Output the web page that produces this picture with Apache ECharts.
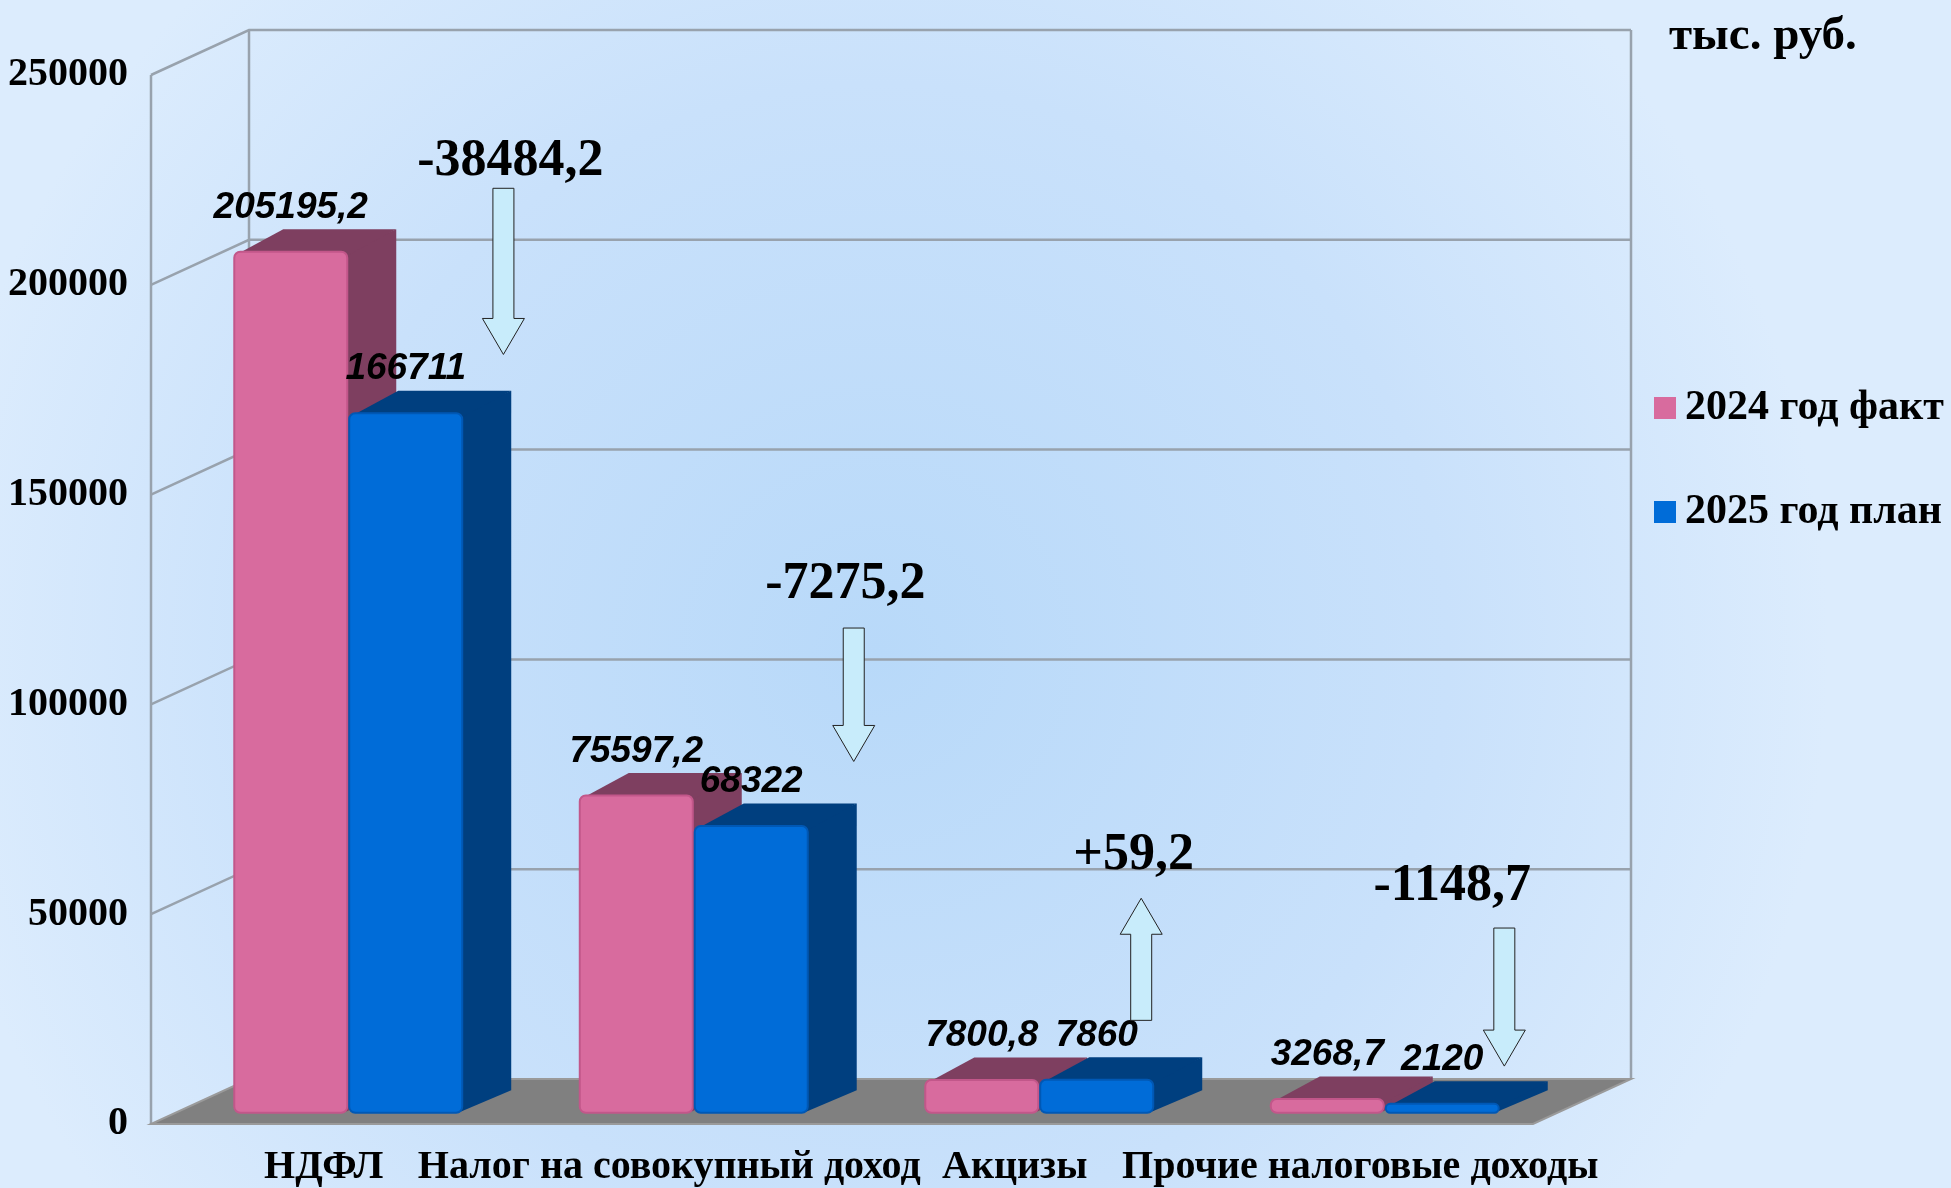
<!DOCTYPE html>
<html>
<head>
<meta charset="utf-8">
<script src="https://cdn.jsdelivr.net/npm/echarts@6/dist/echarts.min.js"></script>
<style>
html, body { margin: 0; padding: 0; }
#chart { width: 1951px; height: 1188px; }
</style>
</head>
<body>
<div id="chart"></div>
<script>
var categories = ['НДФЛ', 'Налог на совокупный доход', 'Акцизы', 'Прочие налоговые доходы'];
var fact2024 = [205195.2, 75597.2, 7800.8, 3268.7];
var plan2025 = [166711, 68322, 7860, 2120];
var yTicks = [0, 50000, 100000, 150000, 200000, 250000];
// arrows between the two years: start / end on the value axis, and the level of the change label
var arrowFrom = [223000, 118200, 24700, 46700];
var arrowTo = [183400, 86400, 53800, 13800];
var diffLabelAt = [229300, 128500, 63900, 56500];

// where the arrow and its label sit inside the category band (share of band width)
var arrowShift = [0.52, 0.534, 0.366, 0.417];
var labelShift = [0.54, 0.51, 0.344, 0.266];

var DX = 98, DY = -45; // depth of the 3d box
var serifFont = '"Liberation Serif", "Times New Roman", serif';

function fmt(v) {
    return String(v).replace('.', ',');
}
var diffText = fact2024.map(function (f, i) {
    var d = Math.round((plan2025[i] - f) * 10) / 10;
    return (d > 0 ? '+' : '') + fmt(d);
});

var chart = echarts.init(document.getElementById('chart'));

function renderFrame(params, api) {
    var cs = params.coordSys;
    var left = cs.x, right = cs.x + cs.width, top = cs.y, bottom = cs.y + cs.height;
    var lineStyle = { stroke: '#98a2ad', lineWidth: 2.5, fill: null };
    var children = [];
    yTicks.forEach(function (v) {
        if (v === 0) return;
        var y = api.coord([0, v])[1];
        children.push({ type: 'polyline', shape: { points: [[left, y], [left + DX, y + DY], [right + DX, y + DY]] }, style: lineStyle });
    });
    children.push({ type: 'line', shape: { x1: left, y1: top, x2: left, y2: bottom }, style: lineStyle });
    children.push({ type: 'line', shape: { x1: left + DX, y1: top + DY, x2: left + DX, y2: bottom + DY }, style: lineStyle });
    children.push({ type: 'line', shape: { x1: right + DX, y1: top + DY, x2: right + DX, y2: bottom + DY }, style: lineStyle });
    children.push({
        type: 'polygon',
        shape: { points: [[left, bottom], [right, bottom], [right + DX, bottom + DY], [left + DX, bottom + DY]] },
        style: { fill: '#808080', stroke: '#9a9a9a', lineWidth: 2 }
    });
    return { type: 'group', children: children };
}

function makeBar(seriesIdx, front, dark, edge) {
    return function (params, api) {
        var idx = api.value(0), val = api.value(1);
        var base = api.coord([idx, 0]);
        var top = api.coord([idx, val]);
        var band = api.size([1, 0])[0];
        var bw = band * 0.327;
        var x0 = base[0] - bw - 1 + seriesIdx * (bw + 2) + DX * 0.25;
        var yb = base[1] + DY * 0.25;
        var yt = top[1] + DY * 0.25;
        var bx = DX * 0.5, by = DY * 0.5;
        return {
            type: 'group',
            children: [{
                type: 'polygon',
                shape: { points: [[x0 + bw - 4, yt], [x0 + bw + bx, yt + by], [x0 + bw + bx, yb + by], [x0 + bw - 4, yb]] },
                style: { fill: dark }
            }, {
                type: 'polygon',
                shape: { points: [[x0, yt + 4], [x0 + bx, yt + by], [x0 + bw + bx, yt + by], [x0 + bw, yt + 4]] },
                style: { fill: dark }
            }, {
                type: 'rect',
                shape: { x: x0, y: yt, width: bw, height: yb - yt, r: 6 },
                style: { fill: front, stroke: edge, lineWidth: 2 }
            }, {
                type: 'text',
                x: x0 + bw / 2,
                y: yt + by - 3,
                style: {
                    text: fmt(val),
                    font: 'italic bold 37px "Liberation Sans", Arial, sans-serif',
                    fill: '#000',
                    align: 'center',
                    verticalAlign: 'bottom'
                }
            }]
        };
    };
}

function renderArrow(params, api) {
    var i = params.dataIndex;
    var band = api.size([1, 0])[0];
    var c = api.coord([i, 0])[0];
    var ax = c + arrowShift[i] * band;
    var y0 = api.coord([i, api.value(1)])[1];
    var y1 = api.coord([i, api.value(2)])[1];
    var dir = y1 > y0 ? 1 : -1;
    var hl = 36, sw = 10.5, hw = 21;
    var yh = y1 - dir * hl;
    var ly = api.coord([i, api.value(3)])[1];
    return {
        type: 'group',
        children: [{
            type: 'polygon',
            shape: { points: [[ax - sw, y0], [ax + sw, y0], [ax + sw, yh], [ax + hw, yh], [ax, y1], [ax - hw, yh], [ax - sw, yh]] },
            style: { fill: '#c8ecfb', stroke: '#222', lineWidth: 1 }
        }, {
            type: 'text',
            x: c + labelShift[i] * band,
            y: ly,
            style: {
                text: diffText[i],
                font: 'bold 52px ' + serifFont,
                fill: '#000',
                align: 'center',
                verticalAlign: 'middle'
            }
        }]
    };
}

var option = {
    backgroundColor: {
        type: 'radial', x: 0.45, y: 0.55, r: 0.8,
        colorStops: [
            { offset: 0, color: '#b8d9f9' },
            { offset: 0.6, color: '#c9e1fb' },
            { offset: 1, color: '#dcecfd' }
        ]
    },
    animation: false,
    title: {
        text: 'тыс. руб.',
        left: 1664,
        top: 8,
        textStyle: { fontFamily: serifFont, fontWeight: 'bold', fontSize: 47, color: '#000' }
    },
    legend: {
        data: ['2024 год факт', '2025 год план'],
        orient: 'vertical',
        left: 1649,
        top: 382,
        itemGap: 62,
        itemWidth: 22,
        itemHeight: 22,
        icon: 'rect',
        textStyle: { fontFamily: serifFont, fontWeight: 'bold', fontSize: 42, color: '#000', padding: [0, 0, 0, 4] }
    },
    grid: { left: 151, top: 75, width: 1382, height: 1049 },
    xAxis: {
        type: 'category',
        data: categories,
        axisLine: { show: false },
        axisTick: { show: false },
        axisLabel: { interval: 0, margin: 24, fontFamily: serifFont, fontWeight: 'bold', fontSize: 40, color: '#000' }
    },
    yAxis: {
        type: 'value',
        min: 0,
        max: 250000,
        interval: 50000,
        axisLine: { show: false },
        axisTick: { show: false },
        splitLine: { show: false },
        axisLabel: {
            margin: 23, fontFamily: serifFont, fontWeight: 'bold', fontSize: 40, color: '#000',
            formatter: function (v) { return String(v); }
        }
    },
    series: [{
        type: 'custom',
        name: 'frame',
        z: 1,
        silent: true,
        renderItem: renderFrame,
        data: [[0, 0]]
    }, {
        type: 'custom',
        name: '2024 год факт',
        z: 2,
        itemStyle: { color: '#d86b9e' },
        renderItem: makeBar(0, '#d86b9e', '#7e3f60', '#c2578a'),
        encode: { x: 0, y: 1 },
        data: fact2024.map(function (v, i) { return [i, v]; })
    }, {
        type: 'custom',
        name: '2025 год план',
        z: 3,
        itemStyle: { color: '#006cd8' },
        renderItem: makeBar(1, '#006cd8', '#003f7f', '#0058b5'),
        encode: { x: 0, y: 1 },
        data: plan2025.map(function (v, i) { return [i, v]; })
    }, {
        type: 'custom',
        name: 'arrows',
        z: 4,
        silent: true,
        renderItem: renderArrow,
        encode: { x: 0, y: [1, 2, 3] },
        data: categories.map(function (c, i) { return [i, arrowFrom[i], arrowTo[i], diffLabelAt[i]]; })
    }]
};
chart.setOption(option);
</script>
</body>
</html>
